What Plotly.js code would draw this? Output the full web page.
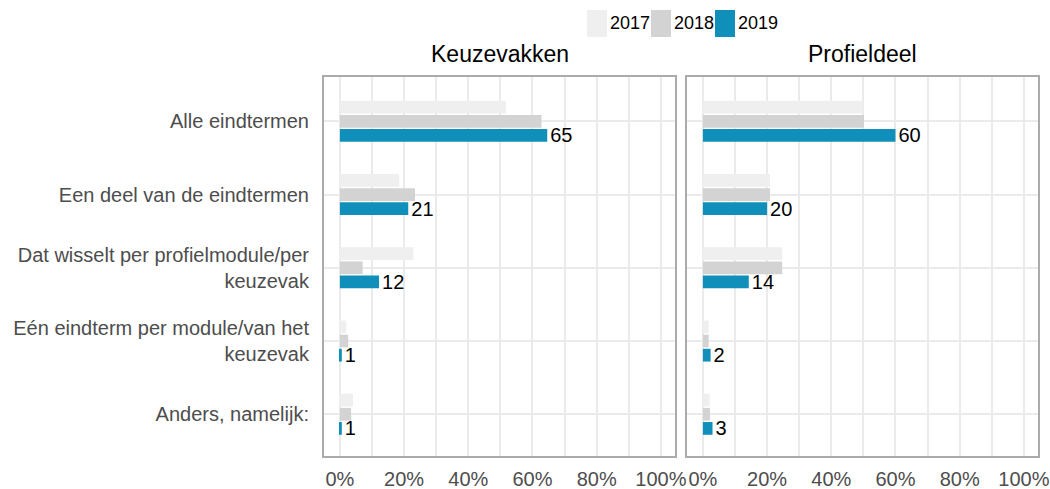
<!DOCTYPE html>
<html>
<head>
<meta charset="utf-8">
<script src="https://cdn.plot.ly/plotly-3.0.1.min.js"></script>
<style>html,body{margin:0;padding:0;background:#fff;}#chart{width:1050px;height:489px;}</style>
</head>
<body>
<div id="chart"></div>
<script>
// ---- data ----
const categories = [
  "Alle eindtermen",
  "Een deel van de eindtermen",
  "Dat wisselt per profielmodule/per<br>keuzevak",
  "Eén eindterm per module/van het<br>keuzevak",
  "Anders, namelijk:"
];
const years = ["2017", "2018", "2019"];
const panelTitles = ["Keuzevakken", "Profieldeel"];

const keuze2017 = [51.7, 18.5, 22.9, 2.0, 4.1];
const keuze2018 = [62.8, 23.4, 7.1, 2.6, 3.5];
const keuze2019 = [64.6, 21.3, 12.2, 0.6, 0.6];

const profiel2017 = [50.0, 20.9, 24.7, 1.8, 2.1];
const profiel2018 = [50.2, 20.9, 24.7, 1.8, 2.2];
const profiel2019 = [60.0, 20.0, 14.3, 2.4, 3.0];

const tickVals = [0, 20, 40, 60, 80, 100];
const tickText = ["0%", "20%", "40%", "60%", "80%", "100%"];

// ---- styling ----
const colors = ["#efefef", "#d3d3d3", "#0f8fb9"];
const FONT = "'Liberation Sans', Arial, sans-serif";
const W = 1050, H = 489;
const M = {l: 324, r: 12, t: 77, b: 33};
const plotW = W - M.l - M.r, plotH = H - M.t - M.b;
const px2x = p => (p - M.l) / plotW;
const py2y = p => (H - M.b - p) / plotH;

const panels = [
  {vals: [keuze2017, keuze2018, keuze2019], xa: "x", ya: "y"},
  {vals: [profiel2017, profiel2018, profiel2019], xa: "x2", ya: "y2"}
];

const traces = [];
panels.forEach(p => {
  years.forEach((yr, i) => {
    const t = {
      type: "bar",
      orientation: "h",
      name: yr,
      x: p.vals[i],
      y: categories,
      xaxis: p.xa,
      yaxis: p.ya,
      marker: {color: colors[i], line: {width: 0}},
      showlegend: false,
      hoverinfo: "x+y",
      cliponaxis: false
    };
    if (i === 2) {
      t.texttemplate = "%{x:.0f}";
      t.textposition = "outside";
      t.constraintext = "none";
      t.textfont = {family: FONT, size: 20, color: "#000"};
    }
    traces.push(t);
  });
});

const xBase = {
  range: [-4.95, 104.4],
  tickvals: tickVals,
  ticktext: tickText,
  showgrid: true,
  gridcolor: "#ebebeb",
  gridwidth: 1.5,
  zeroline: false,
  showline: true,
  mirror: true,
  linecolor: "#ababab",
  linewidth: 2,
  ticks: "",
  ticklabelstandoff: 4,
  tickfont: {family: FONT, size: 20, color: "#4d4d4d"},
  minor: {tickvals: [10, 30, 50, 70, 90], showgrid: true, gridcolor: "#ebebeb", gridwidth: 1.5}
};
const yBase = {
  type: "category",
  categoryorder: "array",
  categoryarray: categories,
  range: [4.57, -0.605],
  showgrid: true,
  gridcolor: "#ebebeb",
  gridwidth: 1.5,
  zeroline: false,
  showline: true,
  mirror: true,
  linecolor: "#ababab",
  linewidth: 2,
  ticks: "",
  ticklabelstandoff: 9,
  tickfont: {family: FONT, size: 20, color: "#4d4d4d"}
};

const leftDom = [0, px2x(675)];
const rightDom = [px2x(687), 1];

const annotations = [];
const shapes = [];
panelTitles.forEach((t, i) => {
  const dom = i === 0 ? leftDom : rightDom;
  annotations.push({
    text: t, xref: "paper", yref: "paper",
    x: (dom[0] + dom[1]) / 2, y: py2y(54),
    xanchor: "center", yanchor: "middle", showarrow: false,
    font: {family: FONT, size: 23, color: "#000"}
  });
});

// legend built from years/colors
const legStart = 587, swW = 20, itemW = 64;
years.forEach((yr, i) => {
  const x0 = legStart + i * itemW;
  shapes.push({
    type: "rect", xref: "paper", yref: "paper",
    x0: px2x(x0), x1: px2x(x0 + swW), y0: py2y(37), y1: py2y(10),
    fillcolor: colors[i], line: {width: 0}
  });
  annotations.push({
    text: yr, xref: "paper", yref: "paper",
    x: px2x(x0 + swW + 1), y: py2y(23.5),
    xanchor: "left", yanchor: "middle", showarrow: false,
    font: {family: FONT, size: 18, color: "#000"}
  });
});

const layout = {
  width: W, height: H,
  margin: M,
  paper_bgcolor: "#fff",
  plot_bgcolor: "#fff",
  barmode: "group",
  bargap: 0.42,
  bargroupgap: 0.1,
  showlegend: false,
  font: {family: FONT},
  xaxis: Object.assign({}, xBase, {domain: leftDom, anchor: "y"}),
  xaxis2: Object.assign({}, xBase, {domain: rightDom, anchor: "y2"}),
  yaxis: Object.assign({}, yBase, {anchor: "x"}),
  yaxis2: Object.assign({}, yBase, {anchor: "x2", showticklabels: false}),
  annotations: annotations,
  shapes: shapes
};

Plotly.newPlot("chart", traces, layout, {displayModeBar: false, responsive: false});
</script>
</body>
</html>
